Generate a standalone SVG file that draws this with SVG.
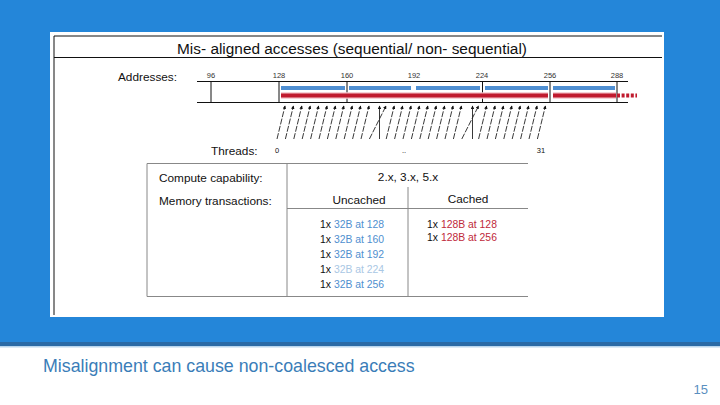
<svg xmlns="http://www.w3.org/2000/svg" width="720" height="405" viewBox="0 0 720 405">
<defs>
<style>
text{font-family:"Liberation Sans",Arial,sans-serif;fill:#111}
.lbl{font-size:11.8px}
.addr{font-size:7.5px;fill:#333;text-anchor:middle}
.row{font-size:10.4px}
.blue{fill:#4f8fcf}
.red{fill:#c0283a}
.ln{stroke:#111;stroke-width:1;fill:none}
.tb{stroke:#888;stroke-width:1;fill:none}
.arr{stroke:#222;stroke-width:0.9;stroke-dasharray:6 1.5;marker-end:url(#ah)}
</style>
<marker id="ah" viewBox="0 0 6 6" refX="5" refY="3" markerWidth="3.6" markerHeight="3.6" orient="auto" markerUnits="userSpaceOnUse">
<path d="M0,0 L6,3 L0,6 z" fill="#111"/>
</marker>
</defs>
<rect x="0" y="0" width="720" height="405" fill="#ffffff"/>
<rect x="0" y="0" width="720" height="342" fill="#2486d9"/>
<rect x="0" y="342" width="720" height="4" fill="#2a6aa6"/>
<rect x="0" y="346" width="720" height="1.5" fill="#b9d6ee"/>
<g id="figure">
<rect x="50" y="32" width="614" height="285" fill="#ffffff"/>
<path class="ln" d="M54,36 H662 M54,36 V315 M54,57.5 H662"/>
<text x="352" y="54" font-size="15.4" text-anchor="middle">Mis- aligned accesses (sequential/ non- sequential)</text>
</g>
<g id="addresses">
<text class="lbl" x="118" y="81">Addresses:</text>
<text class="addr" x="211" y="78">96</text>
<text class="addr" x="279" y="78">128</text>
<text class="addr" x="347" y="78">160</text>
<text class="addr" x="414" y="78">192</text>
<text class="addr" x="482" y="78">224</text>
<text class="addr" x="550" y="78">256</text>
<text class="addr" x="617" y="78">288</text>
<path class="ln" d="M197,81.5 H628 M197,102.5 H628 M211,81.5 V102.5 M279,81.5 V102.5 M347,81.5 V102.5 M482.5,81.5 V102.5 M550,81.5 V102.5 M617,81.5 V102.5"/>
<g stroke="#4f8fd2" stroke-width="4">
<path d="M281,88 H345 M349,88 H411 M416,88 H480 M485,88 H548 M553,88 H615"/>
</g>
<g stroke="#f4c2c9" stroke-width="6.5">
<path d="M281,95.5 H548 M553,95.5 H616"/>
</g>
<g stroke="#c01a2e" stroke-width="4">
<path d="M281,95.5 H548 M553,95.5 H616"/>
<path d="M617,95.5 H637" stroke-dasharray="3 1.6"/>
</g>
</g>
<g id="connectors">
<line class="arr" x1="277" y1="139" x2="285" y2="106"/>
<line class="arr" x1="285.4" y1="139" x2="293.4" y2="106"/>
<line class="arr" x1="293.8" y1="139" x2="301.8" y2="106"/>
<line class="arr" x1="302.2" y1="139" x2="310.2" y2="106"/>
<line class="arr" x1="310.6" y1="139" x2="318.6" y2="106"/>
<line class="arr" x1="319" y1="139" x2="327" y2="106"/>
<line class="arr" x1="327.4" y1="139" x2="335.4" y2="106"/>
<line class="arr" x1="335.8" y1="139" x2="343.8" y2="106"/>
<line class="arr" x1="344.2" y1="139" x2="352.2" y2="106"/>
<line class="arr" x1="352.6" y1="139" x2="360.6" y2="106"/>
<line class="arr" x1="361" y1="139" x2="369" y2="106"/>
<line class="arr" x1="369.4" y1="139" x2="386" y2="106"/>
<line class="arr" x1="379.5" y1="139" x2="379.5" y2="106" style="stroke-dasharray:none"/>
<line class="arr" x1="386.2" y1="139" x2="394.2" y2="106"/>
<line class="arr" x1="394.6" y1="139" x2="402.6" y2="106"/>
<line class="arr" x1="403" y1="139" x2="411" y2="106"/>
<line class="arr" x1="411.4" y1="139" x2="419.4" y2="106"/>
<line class="arr" x1="419.8" y1="139" x2="427.8" y2="106"/>
<line class="arr" x1="428.2" y1="139" x2="436.2" y2="106"/>
<line class="arr" x1="436.6" y1="139" x2="444.6" y2="106"/>
<line class="arr" x1="445" y1="139" x2="453" y2="106"/>
<line class="arr" x1="453.4" y1="139" x2="461.4" y2="106"/>
<line class="arr" x1="461.8" y1="139" x2="478.5" y2="106"/>
<line class="arr" x1="472.5" y1="139" x2="472.5" y2="106" style="stroke-dasharray:none"/>
<line class="arr" x1="478.6" y1="139" x2="486.6" y2="106"/>
<line class="arr" x1="487" y1="139" x2="495" y2="106"/>
<line class="arr" x1="495.4" y1="139" x2="503.4" y2="106"/>
<line class="arr" x1="503.8" y1="139" x2="511.8" y2="106"/>
<line class="arr" x1="512.2" y1="139" x2="520.2" y2="106"/>
<line class="arr" x1="520.6" y1="139" x2="528.6" y2="106"/>
<line class="arr" x1="529" y1="139" x2="537" y2="106"/>
<line class="arr" x1="537.4" y1="139" x2="545.4" y2="106"/>
</g>
<g id="threads">
<text class="lbl" x="211" y="155">Threads:</text>
<text x="277" y="153" font-size="7.5" text-anchor="middle">0</text>
<text x="404" y="153" font-size="7.5" text-anchor="middle">..</text>
<text x="541" y="153" font-size="7.5" text-anchor="middle">31</text>
</g>
<g id="table">
<path class="tb" d="M147,163.5 H528 M147,163.5 V296.5 M147,296.5 H528 M287,163.5 V296.5 M287,208.5 H528 M408,187 V296.5"/>
<text class="lbl" x="159" y="182">Compute capability:</text>
<text class="lbl" x="159" y="205">Memory transactions:</text>
<text class="lbl" x="408" y="181" text-anchor="middle">2.x, 3.x, 5.x</text>
<text class="lbl" x="359" y="204" text-anchor="middle">Uncached</text>
<text class="lbl" x="468" y="203" text-anchor="middle">Cached</text>
<text class="row" x="320" y="228">1x <tspan class="blue">32B at 128</tspan></text>
<text class="row" x="320" y="243">1x <tspan class="blue">32B at 160</tspan></text>
<text class="row" x="320" y="258">1x <tspan class="blue">32B at 192</tspan></text>
<text class="row" x="320" y="273">1x <tspan style="fill:#a9c7e4">32B at 224</tspan></text>
<text class="row" x="320" y="288">1x <tspan class="blue">32B at 256</tspan></text>
<text class="row" x="427" y="228">1x <tspan class="red">128B at 128</tspan></text>
<text class="row" x="427" y="241">1x <tspan class="red">128B at 256</tspan></text>
</g>
<g id="caption">
<text x="43" y="372" font-size="17.8" style="fill:#3a7db8">Misalignment can cause non-coalesced access</text>
<text x="708" y="394" font-size="13" text-anchor="end" style="fill:#5a8fbf">15</text>
</g>
</svg>
